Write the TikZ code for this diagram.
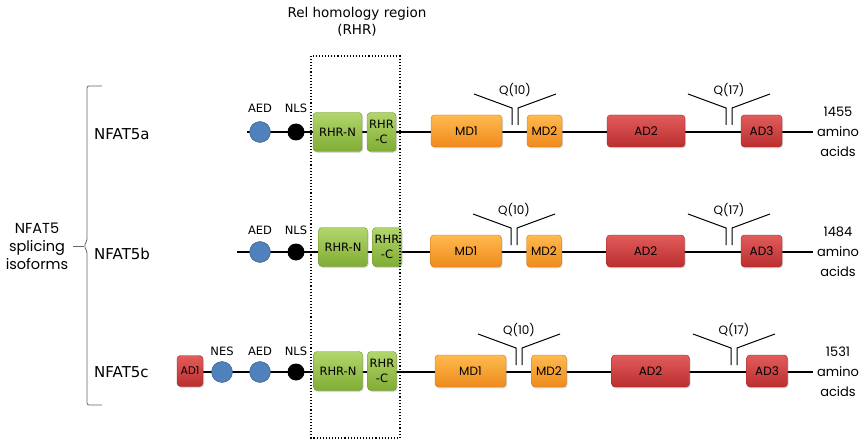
\documentclass[tikz,border=0pt]{standalone}
\usepackage{fontspec}
\setmainfont{DejaVu Sans}
\newfontfamily\comicfont{Poppins}
\usetikzlibrary{shadows}

\definecolor{aedblue}{RGB}{79,129,189}
\definecolor{rhrtop}{RGB}{178,214,108}
\definecolor{rhrbot}{RGB}{128,172,52}
\definecolor{mdtop}{RGB}{255,186,78}
\definecolor{mdbot}{RGB}{238,138,28}
\definecolor{adtop}{RGB}{226,92,92}
\definecolor{adbot}{RGB}{186,46,46}

\tikzset{
  backbone/.style={line width=2.6pt},
  qline/.style={line width=1pt},
  domainbox/.style={rectangle, rounded corners=3.5pt, inner sep=0pt, thin,
    drop shadow={opacity=0.3, shadow xshift=1pt, shadow yshift=-1.3pt}},
  rhr/.style={domainbox, top color=rhrtop, bottom color=rhrbot,
    draw=rhrbot!85!black, minimum height=39pt,
    font=\fontsize{11.5}{15.5}\selectfont},
  md/.style={domainbox, top color=mdtop, bottom color=mdbot,
    draw=mdbot!85!black, minimum height=32pt,
    font=\comicfont\fontsize{12}{14}\selectfont},
  ad/.style={domainbox, top color=adtop, bottom color=adbot,
    draw=adbot!85!black, minimum height=32pt,
    font=\comicfont\fontsize{12}{14}\selectfont},
  aed/.style={circle, inner sep=0pt, minimum size=21pt, fill=aedblue,
    draw=aedblue!65!black, thin},
  nls/.style={circle, inner sep=0pt, minimum size=17pt, fill=black},
  sitelabel/.style={anchor=base, inner sep=0pt, font=\fontsize{11.5}{13}\selectfont},
  qlabel/.style={inner sep=0pt, font=\comicfont\fontsize{12}{14}\selectfont},
  aminolabel/.style={align=center, inner sep=0pt,
    font=\comicfont\fontsize{13}{20}\selectfont},
  isoname/.style={anchor=west, inner sep=0pt, font=\fontsize{15}{17}\selectfont}
}

\newcommand\Qrepeat[4]{
  \def\N{#1} \def\X{#2} \def\Y{#3}
  \coordinate (\N-lb) at (\X,\Y-7);
  \coordinate (\N-lt) at (\X,\Y-24);
  \coordinate (\N-lo) at (\X-38,\Y-38);
  \coordinate (\N-rb) at (\X+6,\Y-7);
  \coordinate (\N-rt) at (\X+6,\Y-24);
  \coordinate (\N-ro) at (\X+44,\Y-38);
  \draw[qline] (\N-lb) -- (\N-lt) -- (\N-lo);
  \draw[qline] (\N-rb) -- (\N-rt) -- (\N-ro);
  \node[qlabel] (\N) at (\X+3,\Y-42) {#4};
}

\begin{document}
\begin{tikzpicture}[x=1pt, y=-1pt]
\useasboundingbox (0,0) rectangle (862,441);

% title of the RHR
\node[font=\fontsize{13.5}{17}\selectfont, align=center, inner sep=0pt] (rhr-title)
  at (357,22) {Rel homology region\\(RHR)};

% brace and group name
\draw[gray!80!black, line width=0.8pt, rounded corners=2pt] (102,86) -- (87,86)
  -- (87,241) -- (84,246) -- (87,251) -- (87,405) -- (102,405);
\draw[gray!80!black, line width=0.8pt] (84,246) -- (73,246);
\node[align=center, inner sep=0pt, font=\comicfont\fontsize{14.5}{18}\selectfont]
  (group) at (37,246) {NFAT5\\splicing\\isoforms};

% NFAT5a
\coordinate (a-start) at (247,132);
\coordinate (a-end) at (813,132);
\draw[backbone] (a-start) -- (a-end);
\node[isoname] (a-name) at (94,134) {NFAT5a};
\node[aed] (a-aed) at (260,132) {};
\node[nls] (a-nls) at (296,132) {};
\node[sitelabel] (a-aed-lbl) at (260,113) {AED};
\node[sitelabel] (a-nls-lbl) at (296,113) {NLS};
\node[rhr, minimum width=49pt] (a-rhrn) at (337.5,132) {RHR-N};
\node[rhr, minimum width=29pt, align=center] (a-rhrc) at (381.5,132) {RHR\\-C};
\node[md, minimum width=71pt] (a-md1) at (466.5,131) {MD1};
\node[md, minimum width=35pt] (a-md2) at (544.5,131) {MD2};
\node[ad, minimum width=78pt] (a-ad2) at (646,131) {AD2};
\node[ad, minimum width=41pt] (a-ad3) at (761.5,131) {AD3};
\Qrepeat{a-q10}{512}{132}{Q(10)}
\Qrepeat{a-q17}{726}{132}{Q(17)}
\node[aminolabel] (a-len) at (838,132) {1455\\amino\\acids};

% NFAT5b
\coordinate (b-start) at (237,252);
\coordinate (b-end) at (813,252);
\draw[backbone] (b-start) -- (b-end);
\node[isoname] (b-name) at (94,254) {NFAT5b};
\node[aed] (b-aed) at (260,252) {};
\node[nls] (b-nls) at (296,252) {};
\node[sitelabel] (b-aed-lbl) at (260,234) {AED};
\node[sitelabel] (b-nls-lbl) at (296,234) {NLS};
\node[rhr, minimum width=49pt] (b-rhrn) at (343,247) {RHR-N};
\node[rhr, minimum width=29pt, align=center] (b-rhrc) at (387,247) {RHR\\-C};
\node[md, minimum width=71pt] (b-md1) at (466,251) {MD1};
\node[md, minimum width=35pt] (b-md2) at (544,251) {MD2};
\node[ad, minimum width=78pt] (b-ad2) at (645.5,251) {AD2};
\node[ad, minimum width=41pt] (b-ad3) at (761.5,251) {AD3};
\Qrepeat{b-q10}{511}{252}{Q(10)}
\Qrepeat{b-q17}{726}{252}{Q(17)}
\node[aminolabel] (b-len) at (838,252) {1484\\amino\\acids};

% NFAT5c
\coordinate (c-start) at (190,372);
\coordinate (c-end) at (813,372);
\draw[backbone] (c-start) -- (c-end);
\node[isoname] (c-name) at (94,372) {NFAT5c};
\node[ad, minimum width=26pt, minimum height=31pt,
  font=\comicfont\fontsize{11}{13}\selectfont] (c-ad1) at (190,371) {AD1};
\node[aed] (c-nes) at (222,372) {};
\node[aed] (c-aed) at (260,372) {};
\node[nls] (c-nls) at (296,372) {};
\node[sitelabel] (c-nes-lbl) at (222,355) {NES};
\node[sitelabel] (c-aed-lbl) at (260,355) {AED};
\node[sitelabel] (c-nls-lbl) at (296,355) {NLS};
\node[rhr, minimum width=49pt] (c-rhrn) at (338,371) {RHR-N};
\node[rhr, minimum width=29pt, align=center] (c-rhrc) at (382,371) {RHR\\-C};
\node[md, minimum width=71pt] (c-md1) at (470.5,371) {MD1};
\node[md, minimum width=35pt] (c-md2) at (549,371) {MD2};
\node[ad, minimum width=78pt] (c-ad2) at (650.5,371) {AD2};
\node[ad, minimum width=41pt] (c-ad3) at (767,371) {AD3};
\Qrepeat{c-q10}{516}{372}{Q(10)}
\Qrepeat{c-q17}{731}{372}{Q(17)}
\node[aminolabel] (c-len) at (838,372) {1531\\amino\\acids};

% dotted frame of the RHR
\draw[dotted, line width=1.1pt] (311,56) rectangle (400,438);
\end{tikzpicture}
\end{document}
